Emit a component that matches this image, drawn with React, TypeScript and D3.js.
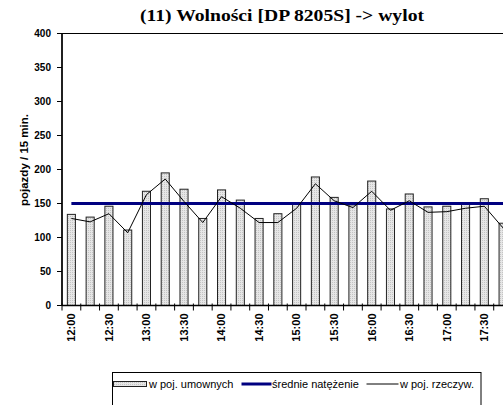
import React from "react";
import * as d3 from "d3";

const times = ["12:00","12:15","12:30","12:45","13:00","13:15","13:30","13:45","14:00","14:15","14:30","14:45","15:00","15:15","15:30","15:45","16:00","16:15","16:30","16:45","17:00","17:15","17:30","17:45"];
const umowne = [134,130,146,111,168,195,171,128,170,155,128,135,149,189,159,148,183,142,164,145,146,150,157,121];
const rzeczyw = [128,123,135,107,163,186,153,122,160,143,122,122,143,179,154,144,168,140,154,137,138,143,146,114];
const srednie = 150;
const yTicks = [0,50,100,150,200,250,300,350,400];

const W = 503, H = 405;
const left = 62, top = 33.5, bottom = 305.5;
const catW = 18.77;
const right = left + catW * times.length;

export default function App() {
  const x = d3.scaleBand<string>().domain(times).range([left, right]).padding(0);
  const y = d3.scaleLinear().domain([0, 400]).range([bottom, top]);
  const bw = x.bandwidth() * 0.43;
  const cx = (t: string) => (x(t) as number) + x.bandwidth() / 2;
  const line = d3.line<number>().x((_, i) => cx(times[i])).y(d => y(d));
  const avgLine = d3.line<string>().x(t => cx(t)).y(() => y(srednie));
  const font = "Arial, 'Liberation Sans', sans-serif";
  return (
    <svg width={W} height={H} style={{ position: "absolute", left: 0, top: 0, background: "#fff" }}>
      <defs>
        <pattern id="dots" width="2" height="2" patternUnits="userSpaceOnUse">
          <rect width="2" height="2" fill="#e6e6e6" />
          <rect width="1" height="1" fill="#c4c4c4" />
        </pattern>
      </defs>
      <text x={140} y={21} textLength={284} lengthAdjust="spacingAndGlyphs" fontFamily="'Liberation Serif', 'Times New Roman', serif" fontWeight="bold" fontSize={17}>(11) Wolności [DP 8205S] -&gt; wylot</text>
      {/* plot border */}
      <rect x={left} y={top} width={right - left} height={bottom - top} fill="none" stroke="#000" strokeWidth={1} />
      {/* bars */}
      {umowne.map((v, i) => (
        <rect key={i} x={cx(times[i]) - bw / 2} y={y(v)} width={bw} height={bottom - y(v)} fill="url(#dots)" stroke="#222" strokeWidth={1} />
      ))}
      {/* average line */}
      <path d={avgLine(times) as string} fill="none" stroke="#000080" strokeWidth={3} />
      {/* real vehicles line */}
      <path d={line(rzeczyw) as string} fill="none" stroke="#000" strokeWidth={1} />
      {/* y axis */}
      <line x1={left} x2={left} y1={top} y2={bottom} stroke="#000" strokeWidth={1.5} />
      {yTicks.map(t => (
        <g key={t}>
          <line x1={left - 5} x2={left} y1={y(t)} y2={y(t)} stroke="#000" />
          <text x={left - 11} y={y(t)} dy="0.35em" textAnchor="end" fontFamily={font} fontWeight="bold" fontSize={10}>{t}</text>
        </g>
      ))}
      <text transform={`translate(23.5,160) rotate(-90)`} textAnchor="middle" dy="0.35em" fontFamily={font} fontWeight="bold" fontSize={11.5}>pojazdy / 15 min.</text>
      {/* x axis */}
      <line x1={left} x2={right} y1={bottom} y2={bottom} stroke="#000" strokeWidth={1.5} />
      {times.map((t, i) => (
        <line key={"tk" + i} x1={x(t) as number} x2={x(t) as number} y1={bottom - 2} y2={bottom + 5} stroke="#000" />
      ))}
      {times.map((t, i) => i % 2 === 0 ? (
        <text key={"lb" + i} transform={`translate(${cx(t)},${bottom + 8}) rotate(-90)`} textAnchor="end" dy="0.35em" fontFamily={font} fontWeight="bold" fontSize={11}>{t}</text>
      ) : null)}
      {/* legend */}
      <rect x={112.5} y={372.5} width={368.5} height={40} fill="#fff" stroke="#000" strokeWidth={1} />
      <rect x={113.5} y={381.5} width={33} height={5} fill="url(#dots)" stroke="#222" />
      <text x={149} y={384} dy="0.35em" fontFamily={font} fontSize={11}>w poj. umownych</text>
      <line x1={241.5} x2={271.5} y1={384} y2={384} stroke="#000080" strokeWidth={3} />
      <text x={272} y={384} dy="0.35em" fontFamily={font} fontSize={11}>średnie natężenie</text>
      <line x1={366.5} x2={398.5} y1={384} y2={384} stroke="#000" strokeWidth={1} />
      <text x={400} y={384} dy="0.35em" fontFamily={font} fontSize={11}>w poj. rzeczyw.</text>
    </svg>
  );
}
